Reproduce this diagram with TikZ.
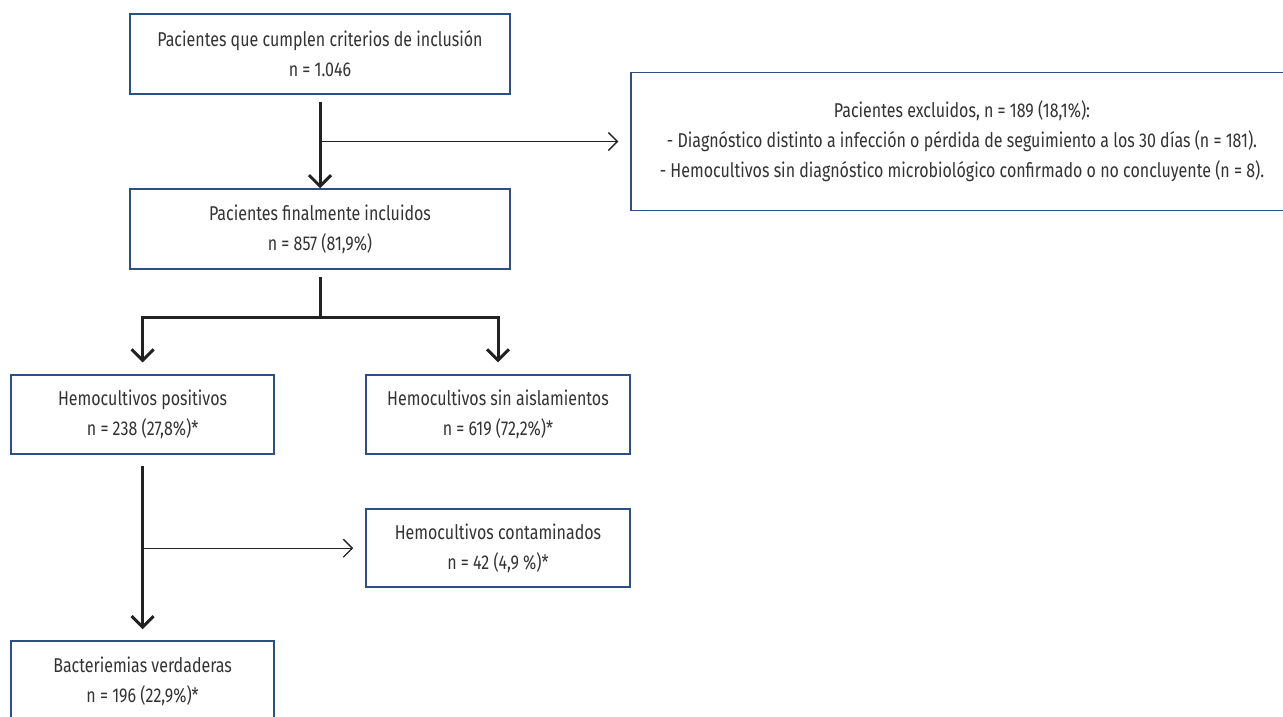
\documentclass[tikz,border=0pt]{standalone}
\usepackage{fontspec}
\setmainfont{Fira Sans}[FakeStretch=0.8]
\usetikzlibrary{arrows.meta}
\definecolor{boxblue}{HTML}{2B4F86}
\definecolor{txtgray}{HTML}{333333}
\definecolor{arrgray}{HTML}{222222}
\tikzset{
  box/.style={draw=boxblue, line width=1.5pt, fill=white, align=center, text=txtgray,
    font=\fontsize{20}{30}\selectfont, inner sep=0pt},
  mainarrow/.style={draw=arrgray, line width=3pt, -{Straight Barb[length=11pt,width=22pt,line width=3pt]}},
  mainline/.style={draw=arrgray, line width=3pt},
  thinarrow/.style={draw=arrgray, line width=1.3pt, -{Straight Barb[length=9pt,width=18pt,line width=1.3pt]}},
}
\begin{document}
\begin{tikzpicture}[x=1pt,y=-1pt]
\useasboundingbox (0,0) rectangle (1283,717);
\clip (0,0) rectangle (1283,717);
\node[box, minimum width=380pt, minimum height=80pt] (b1) at (320,54)
  {Pacientes que cumplen criterios de inclusión\\n = 1.046};
\node[box, minimum width=380pt, minimum height=80pt] (b2) at (320,229)
  {Pacientes finalmente incluidos\\n = 857 (81,9\%)};
\node[box, minimum width=662pt, minimum height=138pt] (ex) at (962,141.5)
  {Pacientes excluidos, n = 189 (18,1\%):\\- Diagnóstico distinto a infección o pérdida de seguimiento a los 30 días (n = 181).\\- Hemocultivos sin diagnóstico microbiológico confirmado o no concluyente (n = 8).};
\node[box, minimum width=263pt, minimum height=79pt] (pos) at (142.6,414.7)
  {Hemocultivos positivos\\n = 238 (27,8\%)*};
\node[box, minimum width=264pt, minimum height=79pt] (sin) at (498,414.7)
  {Hemocultivos sin aislamientos\\n = 619 (72,2\%)*};
\node[box, minimum width=264pt, minimum height=78pt] (con) at (498,548.2)
  {Hemocultivos contaminados\\n = 42 (4,9 \%)*};
\node[box, minimum width=263pt, minimum height=80pt] (bac) at (142.6,681)
  {Bacteriemias verdaderas\\n = 196 (22,9\%)*};
\coordinate (split) at (320,317);
\draw[mainarrow] ([yshift=-7pt]b1.south) -- (b2.north);
\draw[thinarrow] (b1.south |- ex.west) -- ([xshift=-12pt]ex.west);
\draw[mainline] ([yshift=-7pt]b2.south) -- (split);
\draw[mainarrow] (split) -| ([yshift=12pt]pos.north);
\draw[mainarrow] (split) -| ([yshift=12pt]sin.north);
\draw[mainarrow] ([yshift=-11pt]pos.south) -- ([yshift=11pt]bac.north);
\draw[thinarrow] (pos.south |- con.west) -- ([xshift=-12pt]con.west);
\end{tikzpicture}
\end{document}
